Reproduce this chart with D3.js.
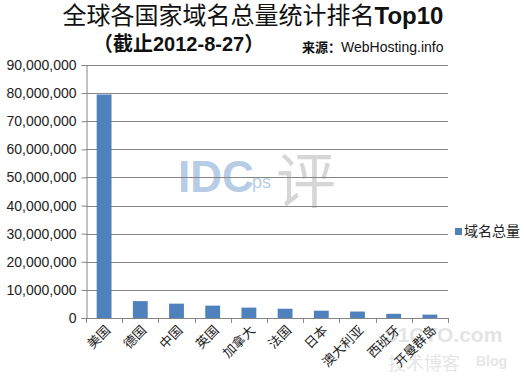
<!DOCTYPE html>
<html>
<head>
<meta charset="utf-8">
<script src="https://cdn.jsdelivr.net/npm/d3@7"></script>
<style>
  html, body { margin: 0; padding: 0; background: #fff; }
  svg { display: block; }
</style>
</head>
<body>
<svg id="chart" width="524" height="384"></svg>
<script>
const categories = ["美国", "德国", "中国", "英国", "加拿大", "法国", "日本", "澳大利亚", "西班牙", "开曼群岛"];
const domainCounts = [79500000, 6000000, 5100000, 4400000, 3700000, 3300000, 2600000, 2300000, 1500000, 1200000];
const yTicks = [0, 10000000, 20000000, 30000000, 40000000, 50000000, 60000000, 70000000, 80000000, 90000000];
const seriesName = "域名总量";
const titleMain = "全球各国家域名总量统计排名";
const titleTail = "Top10";
const subTitle = ["（截止", "2012-8-27", "）"];
const sourceLabel = ["来源：", "WebHosting.info"];

(function () {
const svg = d3.select("#chart");
const CJK = "'Noto Sans CJK SC', 'Noto Sans', sans-serif";
const ARIAL = "'Liberation Sans', Arial, sans-serif";

const pLeft = 86, pRight = 448, pTop = 65, pBottom = 318;

const x = d3.scaleBand().domain(categories).range([pLeft, pRight]).paddingInner(0.59).paddingOuter(0.295);
const y = d3.scaleLinear().domain([0, 90000000]).range([pBottom, pTop]);

// watermarks (faint)
const wm = svg.append("g").attr("class", "watermark");
wm.append("text").attr("x", 178).attr("y", 192).attr("font-family", ARIAL).attr("font-weight", "bold")
  .attr("font-size", 44).attr("fill", "#b7cde6").text("IDC");
wm.append("text").attr("x", 252).attr("y", 188).attr("font-family", ARIAL)
  .attr("font-size", 18).attr("fill", "#b7cde6").text("ps");
wm.append("text").attr("x", 276).attr("y", 203).attr("font-family", CJK)
  .attr("font-size", 60).attr("fill", "#d6d6d6").text("评");
wm.append("text").attr("x", 386).attr("y", 342).attr("font-family", ARIAL).attr("font-weight", "bold")
  .attr("font-size", 21).attr("fill", "#e4e4e4").text("51CTO.com");
wm.append("text").attr("x", 388).attr("y", 370).attr("font-family", CJK)
  .attr("font-size", 18).attr("fill", "#e6e6e6").text("技术博客");
wm.append("text").attr("x", 476).attr("y", 366).attr("font-family", ARIAL).attr("font-weight", "bold")
  .attr("font-size", 14).attr("fill", "#e6e6e6").text("Blog");

// gridlines
svg.append("g").selectAll("line").data(yTicks).join("line")
  .attr("x1", pLeft).attr("x2", pRight)
  .attr("y1", d => Math.round(y(d)) + 0.5).attr("y2", d => Math.round(y(d)) + 0.5)
  .attr("stroke", "#868686").attr("stroke-width", 1);

// y axis
const yAxis = svg.append("g").attr("transform", `translate(${pLeft + 0.5},0)`)
  .call(d3.axisLeft(y).tickValues(yTicks).tickSize(5).tickPadding(5).tickFormat(d3.format(",")));
yAxis.select(".domain").attr("stroke", "#868686");
yAxis.selectAll(".tick line").attr("stroke", "#868686");
yAxis.selectAll(".tick text").attr("font-family", ARIAL).attr("font-size", 14).attr("fill", "#222");

// bars
svg.append("g").selectAll("rect").data(categories).join("rect")
  .attr("x", d => x(d))
  .attr("width", x.bandwidth())
  .attr("y", (d, i) => y(domainCounts[i]))
  .attr("height", (d, i) => y(0) - y(domainCounts[i]))
  .attr("fill", "#4f81bd");

// x axis (ticks between categories)
const step = x.step();
const xg = svg.append("g");
xg.append("line").attr("x1", pLeft).attr("x2", pRight)
  .attr("y1", pBottom + 0.5).attr("y2", pBottom + 0.5).attr("stroke", "#868686");
xg.selectAll("line.tk").data(d3.range(categories.length + 1)).join("line").attr("class", "tk")
  .attr("x1", i => Math.round(pLeft + i * step) + 0.5).attr("x2", i => Math.round(pLeft + i * step) + 0.5)
  .attr("y1", pBottom).attr("y2", pBottom + 5).attr("stroke", "#868686");
xg.selectAll("text").data(categories).join("text")
  .attr("transform", d => `translate(${x(d) + x.bandwidth() / 2 + 7},${pBottom + 13}) rotate(-45)`)
  .attr("text-anchor", "end")
  .attr("font-family", CJK).attr("font-size", 13).attr("fill", "#222")
  .text(d => d);

// legend
const lg = svg.append("g");
lg.append("rect").attr("x", 455).attr("y", 228).attr("width", 7).attr("height", 7).attr("fill", "#4f81bd");
lg.append("text").attr("x", 464).attr("y", 236).attr("font-family", CJK).attr("font-size", 14)
  .attr("fill", "#222").text(seriesName);

// titles
const t = svg.append("text").attr("x", 253).attr("y", 24).attr("text-anchor", "middle").attr("fill", "#111");
t.append("tspan").attr("font-family", CJK).attr("font-size", 24).text(titleMain);
t.append("tspan").attr("font-family", ARIAL).attr("font-weight", "bold").attr("font-size", 24).text(titleTail);

const s = svg.append("text").attr("x", 93).attr("y", 51).attr("fill", "#111").attr("font-weight", "bold");
s.append("tspan").attr("font-family", CJK).attr("font-size", 20).text(subTitle[0]);
s.append("tspan").attr("font-family", ARIAL).attr("font-size", 20).text(subTitle[1]);
s.append("tspan").attr("font-family", CJK).attr("font-size", 20).text(subTitle[2]);

const src = svg.append("text").attr("x", 302).attr("y", 52).attr("fill", "#111");
src.append("tspan").attr("font-family", CJK).attr("font-weight", "bold").attr("font-size", 13).text(sourceLabel[0]);
src.append("tspan").attr("font-family", ARIAL).attr("font-size", 14).text(sourceLabel[1]);
})();
</script>
</body>
</html>
